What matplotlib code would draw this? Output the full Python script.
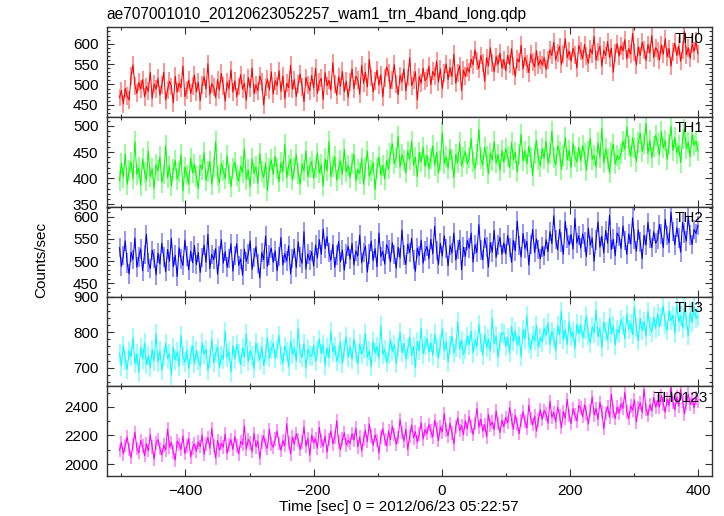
import numpy as np
import matplotlib
matplotlib.use('Agg')
import matplotlib.pyplot as plt
from matplotlib.ticker import MultipleLocator

plt.rcParams['font.family'] = ['Liberation Sans', 'DejaVu Sans']

TITLE = "ae707001010_20120623052257_wam1_trn_4band_long.qdp"
XLABEL = "Time [sec] 0 = 2012/06/23 05:22:57"
YLABEL = "Counts/sec"
BAND_NAMES = ["TH0", "TH1", "TH2", "TH3", "TH0123"]

TIME_START = -503   # sec, first bin
TIME_BIN = 3        # sec

th0 = [
    468, 485, 452, 490, 471, 462, 520, 548, 497, 478, 505, 489, 512, 470, 495, 483, 530, 466, 501, 488,
    515, 474, 499, 530, 462, 487, 508, 495, 455, 520, 481, 503, 492, 545, 470, 486, 511, 478, 496, 523,
    482, 506, 460, 498, 519, 489, 551, 475, 502, 493, 468, 512, 486, 527, 497, 459, 505, 490, 536, 481,
    509, 470, 495, 524, 488, 503, 461, 517, 492, 540, 478, 499, 485, 521, 506, 450, 494, 513, 487, 531,
    476, 509, 497, 534, 483, 521, 465, 503, 492, 547, 488, 512, 470, 501, 526, 494, 458, 517, 499, 485,
    522, 491, 540, 478, 506, 515, 463, 529, 497, 510, 486, 553, 501, 474, 519, 495, 532, 482, 508, 468,
    505, 538, 489, 520, 512, 476, 547, 503, 530, 494, 561, 517, 482, 509, 535, 498, 524, 470, 515, 543,
    528, 490, 512, 549, 501, 475, 522, 506, 538, 484, 517, 565, 497, 511, 531, 462, 519, 503, 540, 509,
    516, 545, 499, 532, 521, 557, 506, 538, 490, 527, 550, 512, 541, 520, 574, 503, 529, 546, 485, 535,
    520, 541, 530, 562, 548, 585, 557, 539, 571, 552, 508, 566, 545, 590, 553, 531, 568, 549, 577, 540,
    561, 534, 572, 549, 588, 545, 520, 563, 555, 596, 538, 567, 551, 529, 574, 556, 543, 583, 547, 560,
    548, 566, 537, 559, 585, 571, 604, 560, 578, 593, 549, 575, 612, 566, 582, 557, 589, 573, 540, 596,
    581, 563, 598, 570, 552, 587, 575, 618, 560, 579, 594, 545, 584, 571, 605, 566, 589, 530, 577, 600,
    569, 595, 582, 610, 563, 588, 574, 625, 580, 548, 592, 571, 603, 585, 559, 598, 577, 620, 566, 590,
    583, 560, 597, 574, 612, 568, 588, 545, 579, 601, 571, 594, 557, 585, 630, 573, 590, 564, 599, 581,
    606, 575,
]

th1 = [
    395, 428, 402, 446, 388, 415, 431, 399, 470, 407, 420, 386, 437, 411, 396, 452, 403, 418, 380, 426,
    414, 441, 392, 408, 462, 401, 423, 385, 417, 434, 398, 412, 445, 375, 421, 406, 389, 438, 410, 427,
    403, 380, 425, 417, 449, 396, 412, 432, 388, 420, 470, 405, 391, 428, 414, 399, 443, 408, 384, 419,
    431, 405, 394, 423, 411, 456, 398, 416, 383, 437, 409, 422, 390, 447, 413, 401, 428, 376, 418, 435,
    407, 442, 419, 393, 430, 412, 465, 401, 424, 436, 397, 418, 445, 409, 388, 427, 414, 452, 403, 421,
    432, 399, 421, 448, 410, 426, 385, 437, 414, 470, 403, 422, 441, 396, 419, 433, 407, 455, 412, 424,
    401, 428, 446, 395, 417, 409, 437, 388, 421, 452, 404, 415, 430, 378, 419, 441, 406, 425, 398, 434,
    418, 447, 466, 428, 439, 480, 421, 445, 433, 410, 452, 436, 471, 425, 440, 403, 449, 431, 459, 422,
    444, 418, 437, 462, 425, 449, 410, 433, 487, 428, 441, 419, 455, 436, 401, 446, 430, 468, 423, 439,
    451, 427, 440, 476, 432, 418, 446, 493, 437, 425, 459, 441, 408, 448, 434, 470, 429, 445, 415, 453,
    430, 457, 441, 420, 468, 436, 449, 412, 445, 484, 433, 452, 427, 461, 439, 405, 447, 472, 436, 423,
    456, 438, 471, 429, 447, 490, 440, 425, 462, 451, 416, 444, 478, 435, 453, 420, 467, 442, 431, 459,
    433, 462, 447, 415, 452, 476, 436, 444, 421, 468, 440, 495, 429, 456, 437, 410, 449, 465, 427, 443,
    436, 448, 471, 455, 498, 463, 442, 477, 458, 432, 469, 486, 451, 466, 505, 447, 472, 439, 460, 482,
    467, 445, 489, 458, 472, 436, 465, 500, 453, 478, 448, 462, 430, 475, 494, 457, 469, 441, 484, 463,
    471, 452,
]

th2 = [
    530, 488, 512, 545, 495, 471, 520, 503, 552, 486, 509, 527, 478, 515, 560, 497, 483, 524, 506, 469,
    518, 493, 540, 509, 476, 526, 499, 551, 487, 513, 465, 530, 504, 490, 547, 511, 480, 522, 496, 535,
    492, 519, 474, 508, 536, 497, 560, 483, 515, 503, 528, 470, 511, 548, 495, 521, 486, 506, 539, 477,
    512, 539, 490, 505, 468, 527, 499, 516, 545, 481, 508, 532, 494, 462, 519, 503, 556, 488, 514, 529,
    497, 523, 478, 510, 553, 491, 517, 500, 534, 471, 506, 528, 485, 543, 509, 495, 566, 482, 516, 502,
    521, 489, 536, 507, 548, 515, 572, 528, 555, 519, 502, 537, 486, 513, 544, 498, 525, 479, 516, 533,
    504, 540, 491, 523, 511, 558, 496, 519, 534, 475, 516, 545, 501, 528, 487, 563, 510, 522, 493, 537,
    526, 498, 541, 515, 484, 531, 507, 570, 513, 492, 538, 519, 551, 503, 477, 529, 512, 547, 495, 522,
    533, 505, 549, 516, 578, 524, 492, 540, 511, 557, 528, 489, 535, 518, 563, 502, 526, 547, 480, 531,
    510, 546, 529, 563, 497, 537, 519, 582, 525, 503, 551, 532, 486, 541, 520, 569, 508, 536, 553, 515,
    541, 516, 558, 530, 497, 547, 523, 590, 535, 509, 562, 528, 544, 491, 537, 571, 519, 550, 526, 505,
    532, 512, 548, 521, 566, 539, 602, 548, 525, 571, 543, 515, 589, 552, 536, 560, 527, 596, 541, 557,
    529, 561, 543, 510, 574, 535, 552, 499, 547, 588, 531, 556, 518, 569, 540, 603, 526, 549, 512, 563,
    555, 528, 579, 546, 515, 561, 538, 597, 549, 522, 570, 543, 505, 558, 536, 587, 551, 530, 566, 540,
    548, 582, 561, 530, 594, 557, 541, 610, 566, 536, 575, 552, 520, 587, 563, 545, 601, 558, 537, 571,
    562, 580,
]

th3 = [
    741, 705, 763, 722, 696, 748, 731, 784, 712, 739, 688, 757, 725, 770, 709, 734, 701, 752, 719, 795,
    716, 748, 693, 731, 769, 725, 740, 680, 758, 722, 745, 704, 791, 733, 715, 750, 698, 737, 762, 711,
    749, 721, 705, 770, 738, 752, 692, 727, 780, 714, 741, 758, 700, 735, 724, 803, 729, 746, 688, 762,
    725, 766, 741, 709, 756, 730, 795, 717, 748, 733, 697, 770, 743, 721, 760, 706, 739, 785, 728, 752,
    769, 727, 752, 791, 735, 714, 760, 745, 703, 776, 738, 758, 720, 810, 741, 729, 768, 699, 753, 736,
    732, 763, 718, 749, 780, 740, 765, 707, 756, 728, 802, 744, 761, 719, 738, 773, 712, 751, 787, 730,
    759, 724, 781, 744, 710, 767, 739, 753, 796, 731, 748, 703, 775, 742, 760, 726, 818, 737, 752, 715,
    738, 779, 746, 765, 712, 757, 800, 742, 769, 725, 753, 786, 734, 760, 701, 774, 748, 812, 739, 763,
    782, 744, 771, 735, 795, 758, 727, 766, 810, 749, 774, 716, 763, 789, 741, 757, 829, 752, 777, 738,
    752, 789, 764, 803, 741, 778, 760, 822, 771, 736, 793, 758, 781, 746, 839, 768, 790, 729, 775, 798,
    797, 760, 786, 742, 816, 775, 803, 764, 789, 731, 808, 781, 846, 770, 752, 792, 776, 820, 758, 785,
    772, 812, 791, 826, 765, 803, 785, 748, 818, 794, 859, 779, 807, 766, 830, 788, 801, 754, 823, 796,
    821, 783, 809, 846, 792, 770, 815, 798, 862, 787, 812, 757, 829, 803, 778, 840, 796, 818, 764, 808,
    797, 836, 819, 782, 851, 808, 825, 793, 870, 814, 776, 839, 805, 830, 789, 858, 816, 801, 843, 811,
    852, 816, 841, 874, 823, 805, 860, 833, 848, 797, 881, 829, 846, 812, 868, 835, 790, 855, 827, 872,
    838, 846,
]

th0123 = [
    2096, 2150, 2071, 2128, 2189, 2103, 2045, 2137, 2222, 2110, 2079, 2164, 2125, 2058, 2141, 2093, 2205, 2118, 2034, 2147,
    2171, 2108, 2064, 2133, 2098, 2245, 2119, 2151, 2083, 2027, 2160, 2137, 2102, 2196, 2074, 2125, 2178, 2049, 2113, 2142,
    2088, 2154, 2121, 2203, 2067, 2139, 2185, 2110, 2248, 2129, 2042, 2165, 2097, 2146, 2118, 2209, 2075, 2133, 2170, 2101,
    2192, 2127, 2071, 2159, 2136, 2268, 2105, 2173, 2148, 2086, 2214, 2120, 2161, 2039, 2155, 2197, 2132, 2110, 2243, 2140,
    2117, 2174, 2230, 2145, 2096, 2163, 2128, 2282, 2151, 2070, 2188, 2139, 2212, 2167, 2101, 2155, 2259, 2124, 2180, 2062,
    2203, 2149, 2177, 2110, 2256, 2162, 2125, 2196, 2083, 2170, 2231, 2141, 2186, 2302, 2155, 2099, 2174, 2218, 2133, 2165,
    2144, 2212, 2168, 2251, 2120, 2189, 2093, 2175, 2236, 2157, 2281, 2196, 2131, 2204, 2163, 2078, 2190, 2247, 2172, 2128,
    2230, 2171, 2263, 2205, 2139, 2187, 2312, 2219, 2160, 2244, 2101, 2196, 2273, 2182, 2226, 2153, 2209, 2289, 2175, 2241,
    2212, 2275, 2231, 2188, 2306, 2249, 2163, 2259, 2224, 2352, 2238, 2197, 2285, 2217, 2141, 2262, 2323, 2233, 2270, 2205,
    2301, 2246, 2332, 2264, 2207, 2285, 2389, 2258, 2313, 2231, 2276, 2190, 2348, 2269, 2295, 2241, 2371, 2282, 2220, 2305,
    2263, 2326, 2289, 2395, 2310, 2244, 2341, 2279, 2212, 2303, 2365, 2296, 2251, 2412, 2318, 2275, 2336, 2229, 2307, 2380,
    2312, 2374, 2349, 2286, 2438, 2327, 2361, 2295, 2398, 2341, 2254, 2366, 2320, 2452, 2339, 2283, 2387, 2345, 2301, 2411,
    2392, 2331, 2415, 2357, 2280, 2376, 2469, 2343, 2388, 2312, 2431, 2366, 2247, 2355, 2402, 2327, 2489, 2370, 2318, 2398,
    2357, 2421, 2390, 2502, 2365, 2318, 2407, 2376, 2449, 2294, 2393, 2428, 2359, 2523, 2382, 2341, 2415, 2373, 2466, 2397,
    2446, 2398, 2481, 2420, 2362, 2455, 2411, 2537, 2432, 2379, 2468, 2405, 2521, 2441, 2350, 2427, 2489, 2415, 2457, 2394,
    2462, 2436,
]

ERRORS = [22, 20, 22, 27, 47]   # 1-sigma rate error per band

SERIES = [th0, th1, th2, th3, th0123]
COLORS = ["#ff0000", "#00ff00", "#0000ff", "#00ffff", "#ff00ff"]
LIGHT = ["#ff8c8c", "#8cff8c", "#8c8cff", "#8cffff", "#ff8cff"]
YLIMS = [(420, 640), (345, 517), (420, 622), (648, 900.5), (1916, 2544)]
MAJOR = [50, 50, 50, 100, 200]
MINOR = [10, 10, 10, 20, 100]
XLIM = (-523, 422)

fig = plt.figure(figsize=(7.24, 5.16), dpi=100)
axes = fig.subplots(5, 1, sharex=True, gridspec_kw=dict(hspace=0))
fig.subplots_adjust(left=0.1474, right=0.9834, top=0.947, bottom=0.0775)

spine_col = "#333333"
label_x = [0.986, 0.986, 0.986, 0.986, 0.993]
for i, ax in enumerate(axes):
    y = np.asarray(SERIES[i], dtype=float)
    t = TIME_START + TIME_BIN * np.arange(len(y))
    ax.errorbar(t, y, yerr=ERRORS[i], fmt='none', ecolor=LIGHT[i], elinewidth=1.3, capsize=0, zorder=1)
    ax.plot(t, y, color=COLORS[i], lw=0.75, zorder=2)
    ax.set_ylim(*YLIMS[i])
    ax.set_xlim(*XLIM)
    ax.yaxis.set_major_locator(MultipleLocator(MAJOR[i]))
    ax.yaxis.set_minor_locator(MultipleLocator(MINOR[i]))
    ax.xaxis.set_major_locator(MultipleLocator(200))
    ax.xaxis.set_minor_locator(MultipleLocator(100))
    ax.tick_params(which='both', direction='in', top=True, right=True, colors=spine_col,
                   labelcolor='black', labelsize=11, width=0.8, pad=6)
    ax.tick_params(which='major', length=5)
    ax.tick_params(which='minor', length=2.5)
    for s in ax.spines.values():
        s.set_color(spine_col)
        s.set_linewidth(1.0)
    ax.text(label_x[i], 0.83, BAND_NAMES[i], transform=ax.transAxes, ha='right', va='baseline',
            fontsize=11, color='black', zorder=5)
    if i < 4:
        ax.tick_params(labelbottom=False)

fig.text(106.5 / 724, 1 - 14 / 516, TITLE, ha='left', va='center', fontsize=11.2)
fig.text(399 / 724, 1 - 507 / 516, XLABEL, ha='center', va='center', fontsize=11)
fig.text(41.5 / 724, 1 - 260 / 516, YLABEL, ha='center', va='center', rotation=90, fontsize=11)

fig.savefig("out.png", dpi=100)
